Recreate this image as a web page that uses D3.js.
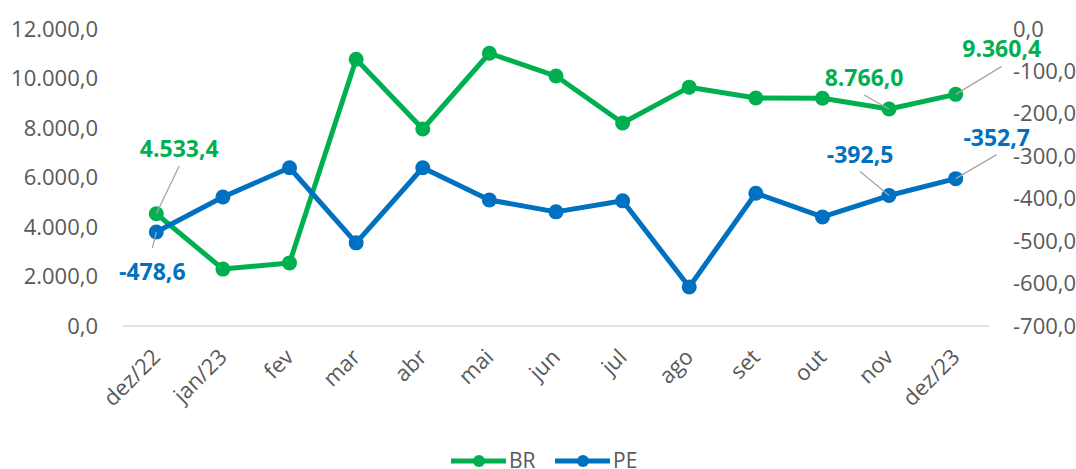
<html>
  <body style="margin:0">
    <script src="https://d3js.org/d3.v7.min.js"></script>
    <div id="chart"></div>
    <script>
      // data
      const categories = ['dez/22', 'jan/23', 'fev', 'mar', 'abr', 'mai', 'jun', 'jul', 'ago', 'set', 'out', 'nov', 'dez/23'];
      const brValues = [4533.4, 2300, 2550, 10780, 7960, 11020, 10100, 8200, 9650, 9210, 9200, 8766.0, 9360.4];
      const peValues = [-478.6, -396, -327, -504, -327, -403, -431, -405, -608, -387, -443, -392.5, -352.7];
      const leftTicks = [0, 2000, 4000, 6000, 8000, 10000, 12000];
      const rightTicks = [0, -100, -200, -300, -400, -500, -600, -700];
      // labelled points: index and label-centre offset (dx, dy) from the point
      const brLabels = [{ i: 0, dx: 23, dy: -65 }, { i: 11, dx: -25, dy: -31 }, { i: 12, dx: 46, dy: -45 }];
      const peLabels = [{ i: 0, dx: -4, dy: 40 }, { i: 11, dx: -29, dy: -41 }, { i: 12, dx: 41, dy: -41 }];

      const width = 1076, height = 469;
      const margin = { top: 29, left: 123, right: 87, bottom: 143 };
      const green = '#00B050', blue = '#0070C0', textColor = '#595959';
      const font = '"Open Sans", sans-serif';

      const svg = d3.select('#chart').append('svg')
        .attr('width', width).attr('height', height)
        .style('font-family', font);

      const x = d3.scaleBand().domain(categories).range([margin.left, width - margin.right]);
      const yL = d3.scaleLinear().domain([0, 12000]).range([height - margin.bottom, margin.top]);
      const yR = d3.scaleLinear().domain([-700, 0]).range([height - margin.bottom, margin.top]);
      const cx = (i) => x(categories[i]) + x.bandwidth() / 2;

      const fmt = (v) => {
        const s = Math.abs(v).toFixed(1).split('.');
        const int = s[0].replace(/\B(?=(\d{3})+(?!\d))/g, '.');
        return (v < 0 ? '-' : '') + int + ',' + s[1];
      };

      // baseline
      svg.append('line')
        .attr('x1', margin.left).attr('x2', width - margin.right)
        .attr('y1', yL(0)).attr('y2', yL(0))
        .attr('stroke', '#D9D9D9').attr('stroke-width', 1.5);

      // left axis
      const leftAxis = svg.append('g')
        .attr('transform', `translate(${margin.left - 22},0)`)
        .call(d3.axisLeft(yL).tickValues(leftTicks).tickSize(0).tickFormat(fmt));
      leftAxis.select('.domain').remove();
      leftAxis.selectAll('text').attr('fill', textColor).style('font-size', '22px').style('font-family', font);

      // right axis
      const rightAxis = svg.append('g')
        .attr('transform', `translate(${width - margin.right + 21},0)`)
        .call(d3.axisRight(yR).tickValues(rightTicks).tickSize(0).tickFormat(fmt));
      rightAxis.select('.domain').remove();
      rightAxis.selectAll('text').attr('fill', textColor).style('font-size', '22px').style('font-family', font);

      // x axis labels
      const xAxis = svg.append('g')
        .attr('transform', `translate(0,${yL(0)})`)
        .call(d3.axisBottom(x).tickSize(0).tickPadding(0));
      xAxis.select('.domain').remove();
      xAxis.selectAll('text')
        .attr('fill', textColor).style('font-size', '22px').style('font-family', font)
        .attr('text-anchor', 'end')
        .attr('y', 0)
        .attr('dy', '0.35em')
        .attr('transform', 'translate(0,27) rotate(-45)');

      // lines
      const drawSeries = (values, yScale, color) => {
        const line = d3.line().x((d, i) => cx(i)).y((d) => yScale(d));
        svg.append('path').datum(values)
          .attr('fill', 'none').attr('stroke', color).attr('stroke-width', 5)
          .attr('stroke-linejoin', 'round').attr('d', line);
        svg.append('g').selectAll('circle').data(values).join('circle')
          .attr('cx', (d, i) => cx(i)).attr('cy', (d) => yScale(d))
          .attr('r', 7.5).attr('fill', color);
      };
      drawSeries(brValues, yL, green);
      drawSeries(peValues, yR, blue);

      // data labels with leader lines
      const drawLabels = (labels, values, yScale, color) => {
        labels.forEach((l) => {
          const px = cx(l.i), py = yScale(values[l.i]);
          const tx = px + l.dx, ty = py + l.dy;
          const up = l.dy < 0;
          svg.append('line')
            .attr('x1', px).attr('y1', py)
            .attr('x2', tx).attr('y2', up ? ty + 17 : ty - 24)
            .attr('stroke', '#A6A6A6').attr('stroke-width', 1.3);
          svg.append('text')
            .attr('x', tx).attr('y', ty).attr('dy', '0.35em')
            .attr('text-anchor', 'middle')
            .attr('fill', color)
            .style('font-size', '23px').style('font-weight', 700)
            .text(fmt(values[l.i]));
        });
      };
      drawLabels(brLabels, brValues, yL, green);
      drawLabels(peLabels, peValues, yR, blue);

      // legend
      const legend = svg.append('g').attr('transform', `translate(0,461)`);
      [{ name: 'BR', color: green, x0: 451 }, { name: 'PE', color: blue, x0: 555 }].forEach((s) => {
        legend.append('line').attr('x1', s.x0).attr('x2', s.x0 + 55).attr('y1', 0).attr('y2', 0)
          .attr('stroke', s.color).attr('stroke-width', 5);
        legend.append('circle').attr('cx', s.x0 + 28).attr('cy', 0).attr('r', 6).attr('fill', s.color);
        legend.append('text').attr('x', s.x0 + 58).attr('y', 0).attr('dy', '0.35em')
          .attr('fill', textColor).style('font-size', '21px').text(s.name);
      });
    </script>
  </body>
</html>
